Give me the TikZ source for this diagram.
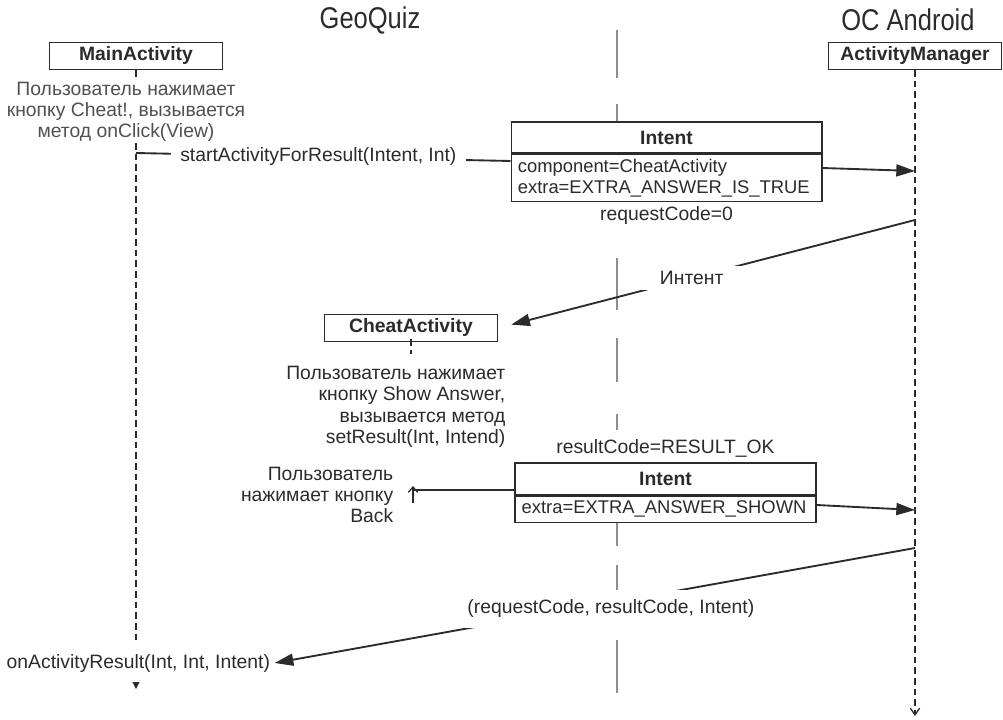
\documentclass[tikz,border=0pt]{standalone}
\usepackage{fontspec}
\setmainfont{Liberation Sans}
\newfontfamily\titlefont[FakeStretch=0.85]{Liberation Sans}
\usetikzlibrary{arrows.meta,positioning}
\definecolor{ink}{HTML}{2B2B2B}
\definecolor{soft}{HTML}{505050}
\definecolor{sepgray}{HTML}{8E8E8E}
\newcommand\bodysize{\fontsize{14.5}{16}\selectfont}
\newcommand\boxsize{\fontsize{13.8}{15.8}\selectfont}

\begin{document}
\begin{tikzpicture}[x=0.75pt,y=-0.75pt,font=\bodysize,text=ink,
 >={Triangle[length=14pt,width=9pt]},
 ttl/.style={font=\titlefont\fontsize{22.5}{26}\selectfont},
 obj/.style={draw=ink,line width=1pt,fill=white,font=\bodysize\bfseries,minimum width=130pt,minimum height=20pt,inner sep=0pt},
 ihead/.style={draw=ink,line width=1pt,fill=white,font=\bodysize\bfseries,minimum height=23pt,inner sep=0pt},
 ibody/.style={draw=ink,line width=1pt,fill=white,font=\boxsize,align=left,inner xsep=5pt,inner ysep=3.5pt},
 msg/.style={draw=ink,line width=1.4pt},
 arr/.style={msg,->},
 life/.style={draw=ink,line width=1pt,dash pattern=on 5pt off 3pt},
 sepline/.style={draw=sepgray,line width=2pt},
 gap/.style={fill=white,font=\bodysize,inner ysep=3pt}]
\useasboundingbox (0,0) rectangle (1003,720);

\node[ttl] (geo) at (370,20) {GeoQuiz};
\node[ttl] (os) at (908,20) {ОС Android};

\foreach \a/\b in {30/78,104/122,258/310,338/382,414/430,523/546,565/592,640/693}
  \draw[sepline] (617,\a) -- (617,\b);

\node[obj] (main) at (136,56) {MainActivity};
\node[obj] (am) at (915,56) {ActivityManager};
\node[obj] (cheat) at (411,328) {CheatActivity};

\node[align=center,text=soft] (mtxt) at (126,112) {Пользователь нажимает\\кнопку Cheat!, вызывается\\метод onClick(View)};
\node[align=right,anchor=east] (ctxt) at (510,407) {Пользователь нажимает\\кнопку Show Answer,\\вызывается метод\\setResult(Int, Intend)};
\node[align=right,anchor=east] (btxt) at (398,495) {Пользователь\\нажимает кнопку\\Back};
\node[anchor=west] (ores) at (2,663) {onActivityResult(Int, Int, Intent)};

\node[ihead,minimum width=233pt] (int1) at (666.5,137.5) {Intent};
\node[ibody,text width=223pt,below=0pt of int1] (int1b) {component=CheatActivity\\extra=EXTRA\_ANSWER\_IS\_TRUE};
\node[below=0pt of int1b] (qcode) {requestCode=0};

\node[ihead,minimum width=225.75pt,minimum height=24pt] (int2) at (665.5,479) {Intent};
\node[ibody,text width=215.75pt,below=0pt of int2] (int2b) {extra=EXTRA\_ANSWER\_SHOWN};
\node[above=0pt of int2] (rcode) {resultCode=RESULT\_OK};

\coordinate (ms) at (136,153);
\coordinate (m0) at (136,143);
\coordinate (m1) at (136,640);
\coordinate (a1) at (915,171);
\coordinate (a2) at (915,220);
\coordinate (a3) at (915,510);
\coordinate (a4) at (915,548);
\coordinate (aend) at (915,716);
\coordinate (bk) at (413,490);

\draw[life] (main.south) -- (136,78);
\draw[life] (m0) -- (m1);
\fill[ink] (132.5,682) -- (139.5,682) -- (136,689) -- cycle;
\draw[life,-{Straight Barb[length=5pt,width=7pt]}] (am.south) -- (aend);
\draw[life] ([yshift=2pt]cheat.south) -- (411,354);

\draw[msg] (ms) -- node[gap,pos=.487,inner xsep=7pt]{startActivityForResult(Intent, Int)} (int1b.west |- 0,161);
\draw[arr] (int1b.east |- 0,168) -- (a1);
\draw[arr,shorten >=10pt] (a2) -- node[gap,pos=.536,inner xsep=15pt,inner ysep=4pt]{Интент} (cheat.east);
\draw[msg] (int2b.west |- 0,490) -- (bk);
\draw[draw=ink,line width=1pt,-{Straight Barb[length=4pt,width=7pt]}] (413,503) -- (413,486);
\draw[arr] (int2b.east |- 0,505) -- (a3);
\draw[arr] (a4) -- node[gap,pos=.475,yshift=-4.5pt,inner xsep=2pt,inner ysep=7.5pt]{(requestCode, resultCode, Intent)} (ores.east);
\end{tikzpicture}
\end{document}
